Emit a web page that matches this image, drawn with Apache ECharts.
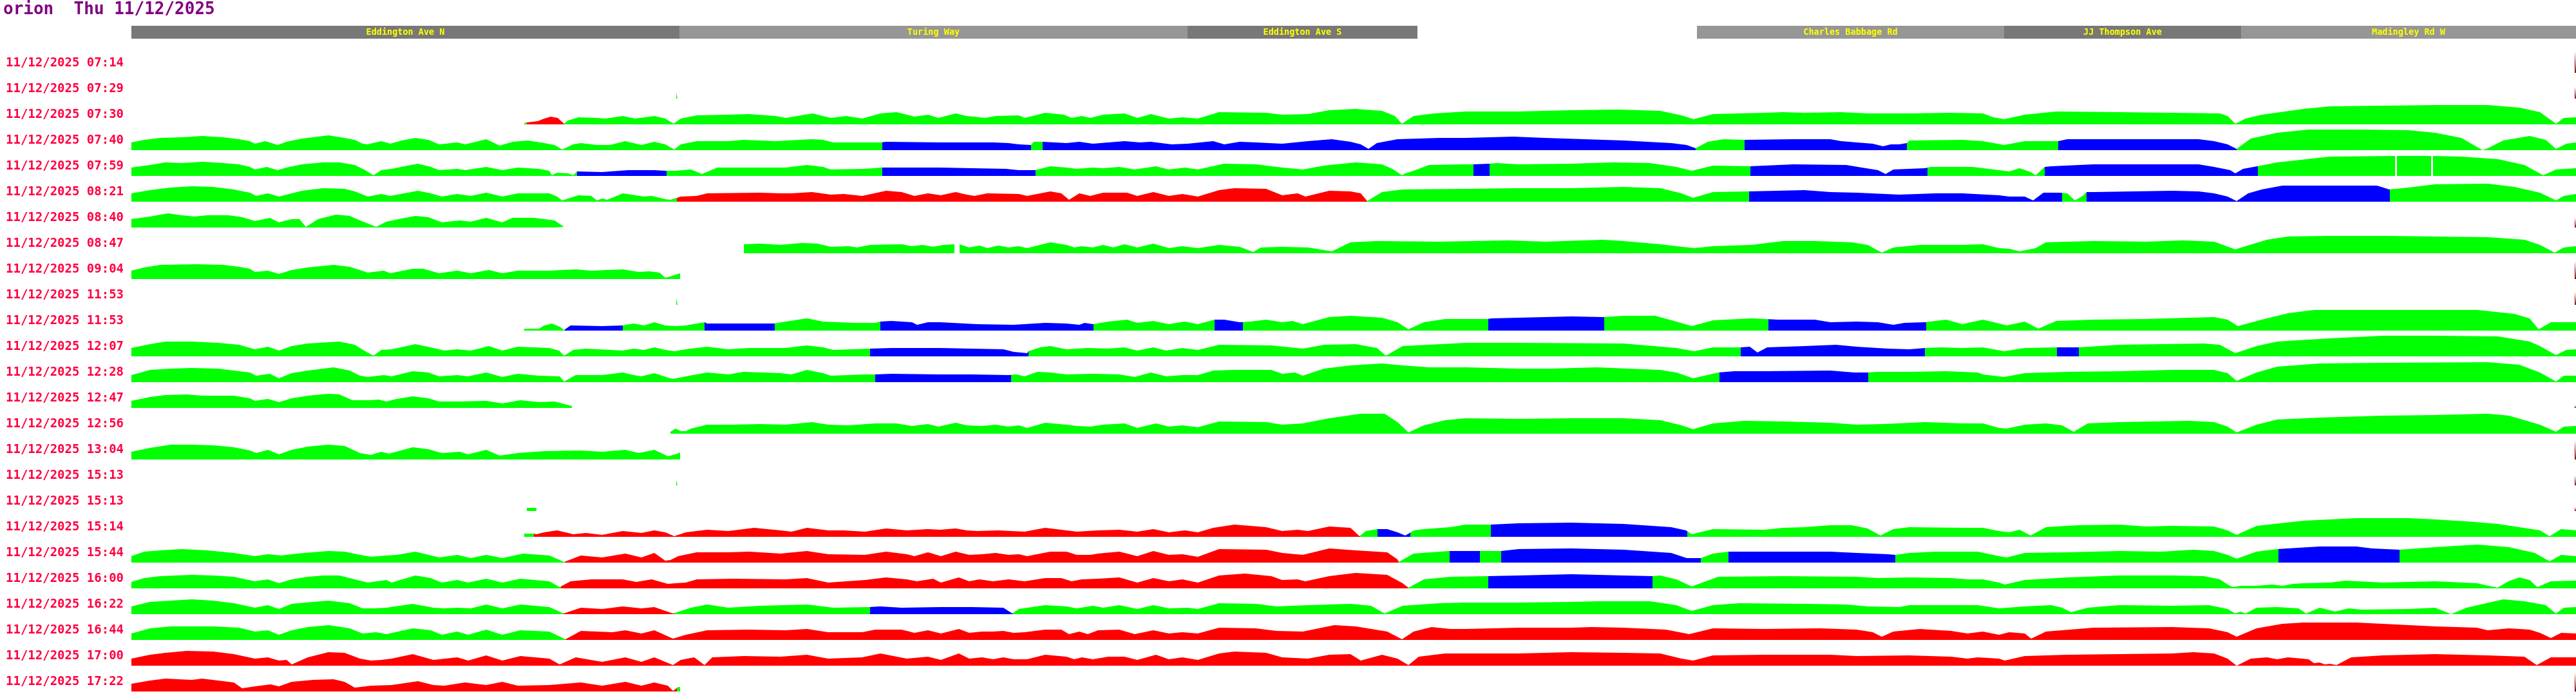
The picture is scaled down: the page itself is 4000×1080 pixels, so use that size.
<!DOCTYPE html>
<html><head><meta charset="utf-8">
<script src="https://cdn.jsdelivr.net/npm/echarts@6/dist/echarts.min.js"></script>
<style>html,body{margin:0;padding:0;background:#fff}#c{width:4000px;height:1080px}</style>
</head><body><div id="c"></div>
<script>
const titleText = 'orion  Thu 11/12/2025';
const rowLabels = ['11/12/2025 07:14','11/12/2025 07:29','11/12/2025 07:30','11/12/2025 07:40','11/12/2025 07:59','11/12/2025 08:21','11/12/2025 08:40','11/12/2025 08:47','11/12/2025 09:04','11/12/2025 11:53','11/12/2025 11:53','11/12/2025 12:07','11/12/2025 12:28','11/12/2025 12:47','11/12/2025 12:56','11/12/2025 13:04','11/12/2025 15:13','11/12/2025 15:13','11/12/2025 15:14','11/12/2025 15:44','11/12/2025 16:00','11/12/2025 16:22','11/12/2025 16:44','11/12/2025 17:00','11/12/2025 17:22'];
// road sections: [from, to, name, shade]
const sections = [[204,1055,'Eddington Ave N','d'],[1055,1844,'Turing Way','l'],[1844,2201,'Eddington Ave S','d'],[2635,3112,'Charles Babbage Rd','l'],[3112,3480,'JJ Thompson Ave','d'],[3480,4000,'Madingley Rd W','l']];

// profiles: [distance, value]
const prof00 = [];
const prof01 = [[1050,9],[1052,9]];
const prof02 = [[814,2],[818,3],[835,5],[845,9],[855,12],[866,10],[876,1],[882,6],[898,11],[927,10],[940,9],[967,13],[986,9],[1016,13],[1033,9],[1046,1],[1057,9],[1082,14],[1130,15],[1163,16],[1204,13],[1220,10],[1262,17],[1290,10],[1314,13],[1339,9],[1367,17],[1392,19],[1420,12],[1441,15],[1457,10],[1484,17],[1501,13],[1513,12],[1529,10],[1546,13],[1582,14],[1591,10],[1623,18],[1652,15],[1664,10],[1680,13],[1693,10],[1713,15],[1746,17],[1766,10],[1787,16],[1815,9],[1836,11],[1860,9],[1893,19],[1966,18],[1991,15],[2031,16],[2064,22],[2105,24],[2146,21],[2166,13],[2177,1],[2195,13],[2227,17],[2276,20],[2358,20],[2440,22],[2513,23],[2578,21],[2611,14],[2630,8],[2660,16],[2740,18],[2769,19],[2802,18],[2859,19],[2900,17],[2965,17],[3030,18],[3079,17],[3095,11],[3112,8],[3144,15],[3193,20],[3291,19],[3373,18],[3447,17],[3459,13],[3471,1],[3487,9],[3512,15],[3577,24],[3618,28],[3700,29],[3781,30],[3863,30],[3912,26],[3944,19],[3969,1],[3981,10],[4000,11]];
const prof03 = [[204,12],[224,16],[249,19],[282,20],[314,22],[347,20],[371,17],[388,14],[396,10],[412,14],[431,8],[445,13],[469,18],[510,23],[535,19],[551,16],[563,10],[571,9],[592,14],[606,10],[624,15],[645,19],[665,16],[682,9],[710,12],[722,9],[735,12],[755,17],[776,7],[796,13],[820,15],[845,11],[861,8],[873,1],[890,9],[902,11],[927,8],[947,8],[971,14],[996,8],[1016,13],[1033,9],[1047,1],[1057,9],[1082,14],[1131,14],[1155,16],[1204,14],[1261,17],[1278,16],[1294,12],[1367,12],[1376,13],[1460,12],[1542,12],[1566,11],[1582,9],[1601,8],[1605,13],[1619,13],[1656,11],[1676,13],[1697,10],[1746,14],[1770,12],[1787,13],[1819,9],[1844,10],[1884,14],[1901,9],[1925,13],[1950,12],[1991,10],[2031,14],[2068,17],[2097,13],[2113,9],[2125,2],[2138,11],[2170,17],[2235,19],[2276,19],[2350,21],[2399,19],[2521,15],[2595,11],[2619,8],[2633,3],[2652,13],[2676,17],[2709,16],[2785,17],[2842,17],[2859,14],[2883,12],[2908,10],[2924,6],[2936,9],[2949,9],[2961,11],[2965,15],[3047,16],[3079,14],[3112,8],[3144,14],[3196,14],[3210,17],[3291,17],[3414,17],[3438,14],[3459,9],[3473,2],[3495,18],[3536,27],[3585,32],[3659,32],[3740,31],[3781,27],[3822,19],[3855,0],[3863,3],[3887,15],[3928,22],[3953,16],[3969,2],[3985,10],[4000,12]];
const prof04 = [[204,13],[233,17],[257,21],[282,20],[314,22],[347,20],[371,18],[388,14],[396,10],[414,14],[431,9],[445,13],[469,18],[502,21],[527,21],[551,17],[567,9],[580,1],[592,9],[608,11],[633,16],[649,19],[669,14],[682,9],[710,11],[722,9],[755,14],[780,9],[804,13],[837,11],[853,8],[857,1],[865,5],[882,4],[890,1],[896,7],[935,6],[975,9],[1016,9],[1033,8],[1049,8],[1073,10],[1090,3],[1092,1],[1114,13],[1180,13],[1220,13],[1253,17],[1278,14],[1290,10],[1343,11],[1370,13],[1384,13],[1460,13],[1509,12],[1562,11],[1582,9],[1607,9],[1615,11],[1631,15],[1656,13],[1672,11],[1697,13],[1713,12],[1738,14],[1762,10],[1795,15],[1815,10],[1840,13],[1860,10],[1901,19],[1950,18],[1991,13],[2023,10],[2056,16],[2105,21],[2146,18],[2162,11],[2177,1],[2182,4],[2195,8],[2219,17],[2276,18],[2288,18],[2313,19],[2325,20],[2358,18],[2440,19],[2505,21],[2562,20],[2603,14],[2627,8],[2660,16],[2717,15],[2740,16],[2785,18],[2867,17],[2891,13],[2916,9],[2928,3],[2940,10],[2989,12],[2998,14],[3063,14],[3096,10],[3120,7],[3136,12],[3153,6],[3161,1],[3175,14],[3185,15],[3251,18],[3414,18],[3438,14],[3463,9],[3471,4],[3483,11],[3505,15],[3536,21],[3618,30],[3719,31],[3720,'-'],[3722,31],[3775,31],[3776,'-'],[3778,31],[3822,30],[3879,26],[3920,17],[3949,1],[3969,10],[4000,12]];
const prof05 = [[204,13],[233,18],[265,22],[298,24],[331,23],[363,19],[388,14],[398,9],[416,13],[433,8],[453,13],[469,17],[502,21],[535,20],[551,16],[571,8],[592,12],[606,9],[633,14],[649,17],[669,13],[686,8],[710,12],[731,9],[755,14],[780,8],[804,13],[853,13],[865,8],[873,2],[898,10],[918,9],[927,2],[935,5],[943,3],[967,13],[1000,8],[1012,9],[1033,4],[1041,3],[1051,6],[1057,8],[1082,9],[1098,13],[1180,14],[1212,13],[1229,13],[1261,15],[1290,11],[1310,12],[1339,9],[1376,17],[1400,15],[1420,9],[1441,13],[1461,10],[1484,15],[1501,11],[1513,9],[1533,13],[1582,12],[1595,9],[1631,16],[1648,13],[1660,3],[1676,13],[1693,9],[1713,14],[1750,14],[1766,9],[1791,15],[1815,9],[1836,12],[1860,8],[1893,18],[1917,21],[1966,20],[1991,10],[2015,13],[2027,8],[2064,17],[2097,16],[2113,13],[2123,1],[2146,15],[2178,19],[2276,20],[2358,21],[2440,21],[2521,23],[2578,21],[2611,13],[2629,6],[2660,15],[2716,16],[2802,18],[2842,15],[2883,14],[2949,11],[3006,13],[3047,13],[3104,10],[3120,8],[3144,8],[3157,2],[3173,14],[3198,14],[3210,13],[3222,2],[3234,9],[3240,15],[3251,15],[3373,17],[3414,16],[3438,13],[3459,8],[3473,1],[3491,13],[3512,19],[3544,25],[3691,25],[3710,19],[3740,22],[3781,27],[3863,28],[3904,23],[3944,14],[3969,2],[3981,9],[4000,12]];
const prof06 = [[204,13],[233,17],[261,22],[282,19],[302,17],[322,19],[355,19],[376,16],[396,10],[419,15],[433,8],[453,13],[465,13],[475,1],[494,13],[522,20],[543,18],[559,11],[584,1],[600,9],[624,14],[645,18],[665,16],[686,8],[714,11],[731,9],[755,15],[780,8],[796,15],[829,15],[861,11],[876,1]];
const prof07 = [[1155,14],[1180,15],[1212,13],[1245,16],[1269,15],[1290,10],[1318,11],[1331,9],[1351,13],[1400,14],[1416,11],[1433,13],[1449,10],[1465,13],[1482,14],[1486,'-'],[1490,14],[1505,9],[1521,12],[1533,8],[1550,12],[1566,9],[1582,11],[1595,8],[1631,17],[1656,13],[1668,9],[1680,11],[1697,9],[1713,13],[1729,9],[1746,14],[1766,9],[1791,15],[1815,8],[1836,11],[1860,8],[1893,13],[1925,10],[1946,2],[1958,9],[1991,10],[2031,9],[2068,3],[2097,17],[2138,19],[2235,18],[2342,20],[2399,18],[2489,21],[2521,19],[2578,14],[2603,11],[2631,8],[2660,11],[2720,13],[2769,19],[2818,19],[2875,17],[2900,13],[2922,1],[2940,9],[2981,13],[3047,13],[3079,14],[3104,8],[3120,7],[3136,3],[3161,8],[3177,17],[3251,19],[3332,18],[3389,20],[3438,18],[3471,6],[3487,11],[3520,21],[3553,26],[3618,27],[3700,27],[3781,26],[3863,25],[3920,21],[3944,13],[3967,1],[3981,9],[4000,11]];
const prof08 = [[204,13],[224,18],[249,22],[306,23],[347,22],[371,19],[388,16],[396,11],[416,13],[433,8],[453,14],[478,18],[518,22],[543,19],[559,14],[571,10],[596,13],[606,9],[641,16],[657,16],[682,9],[710,13],[731,9],[759,14],[780,9],[804,13],[853,13],[894,15],[918,13],[967,15],[992,11],[1008,12],[1024,10],[1033,2],[1041,4],[1056,9]];
const prof09 = [[1050,11],[1052,11]];
const prof10 = [[814,3],[829,3],[837,3],[845,8],[857,11],[869,6],[876,1],[886,8],[935,7],[967,8],[984,11],[1000,8],[1016,13],[1033,8],[1049,7],[1065,8],[1082,11],[1094,13],[1098,11],[1202,11],[1220,14],[1253,19],[1278,14],[1327,12],[1359,12],[1367,14],[1384,15],[1416,13],[1424,9],[1441,13],[1460,13],[1517,10],[1574,9],[1623,12],[1656,11],[1676,9],[1684,12],[1697,10],[1721,14],[1750,17],[1766,12],[1791,15],[1815,10],[1840,14],[1860,10],[1886,17],[1901,17],[1925,13],[1942,14],[1966,17],[1991,13],[2007,15],[2023,10],[2064,21],[2097,23],[2146,20],[2170,13],[2187,2],[2211,13],[2244,18],[2309,18],[2317,19],[2358,20],[2440,22],[2490,21],[2521,23],[2570,23],[2603,14],[2627,7],[2660,16],[2720,19],[2761,17],[2818,17],[2842,13],[2883,14],[2916,13],[2940,9],[2957,12],[2989,13],[3022,17],[3047,10],[3079,17],[3096,13],[3116,8],[3144,14],[3165,3],[3193,15],[3251,17],[3332,18],[3438,21],[3459,17],[3475,7],[3512,17],[3553,27],[3593,32],[3700,32],[3847,32],[3904,26],[3928,19],[3942,2],[3961,13],[4000,13]];
const prof11 = [[204,13],[233,19],[257,23],[298,23],[339,21],[371,18],[396,11],[416,15],[433,9],[453,16],[478,20],[527,23],[551,18],[567,8],[580,1],[592,10],[608,11],[645,19],[673,13],[690,9],[710,11],[731,9],[759,16],[780,9],[804,15],[853,13],[868,9],[876,1],[890,10],[910,12],[967,9],[984,12],[1000,10],[1016,14],[1033,10],[1047,8],[1065,11],[1098,15],[1131,11],[1163,13],[1220,13],[1253,17],[1278,14],[1294,10],[1351,12],[1384,13],[1460,13],[1509,12],[1558,11],[1574,7],[1595,5],[1597,8],[1615,14],[1631,16],[1656,11],[1689,13],[1721,12],[1746,14],[1766,9],[1791,14],[1811,9],[1836,13],[1860,10],[1893,18],[1974,17],[2023,12],[2056,18],[2105,19],[2138,13],[2152,1],[2178,16],[2276,21],[2350,21],[2521,20],[2603,13],[2631,8],[2660,14],[2703,14],[2717,15],[2729,6],[2744,14],[2802,16],[2851,18],[2883,15],[2932,12],[2965,11],[2989,13],[3014,14],[3047,13],[3079,14],[3112,8],[3144,13],[3194,14],[3228,14],[3291,18],[3422,20],[3447,18],[3471,5],[3504,16],[3536,23],[3618,28],[3700,32],[3781,32],[3879,31],[3928,23],[3944,16],[3969,2],[3985,10],[4000,11]];
const prof12 = [[204,11],[233,19],[265,21],[298,22],[339,21],[363,18],[388,15],[398,10],[419,13],[433,6],[453,14],[478,18],[518,23],[543,18],[559,10],[571,8],[596,11],[608,9],[641,17],[665,15],[682,9],[710,11],[727,9],[755,15],[780,8],[804,13],[837,10],[869,9],[876,1],[894,11],[935,11],[967,15],[984,11],[996,9],[1016,14],[1037,7],[1045,5],[1065,9],[1098,15],[1131,12],[1155,16],[1212,14],[1229,12],[1253,19],[1278,14],[1290,10],[1343,12],[1359,12],[1384,13],[1460,12],[1509,12],[1566,11],[1578,12],[1591,9],[1611,16],[1631,15],[1656,12],[1697,13],[1738,12],[1762,8],[1787,15],[1811,9],[1836,11],[1860,11],[1884,18],[1917,19],[1974,19],[1991,13],[2011,15],[2023,10],[2056,21],[2097,26],[2146,29],[2178,26],[2219,23],[2276,23],[2358,21],[2407,21],[2480,23],[2578,19],[2603,15],[2629,6],[2668,15],[2693,17],[2740,17],[2842,18],[2879,15],[2900,15],[2916,16],[2965,16],[3022,17],[3071,15],[3079,12],[3104,9],[3112,8],[3144,14],[3210,16],[3291,17],[3373,19],[3438,19],[3459,14],[3473,2],[3504,15],[3536,24],[3602,29],[3700,30],[3863,31],[3912,27],[3944,15],[3969,1],[3981,10],[4000,10]];
const prof13 = [[204,11],[233,17],[257,20],[290,21],[314,19],[363,19],[388,15],[396,11],[416,14],[433,9],[453,15],[478,19],[510,22],[527,21],[547,12],[576,12],[588,13],[600,10],[616,14],[641,18],[665,15],[682,10],[714,10],[755,11],[780,7],[808,12],[837,9],[861,10],[888,3]];
const prof14 = [[1041,3],[1049,8],[1057,4],[1065,4],[1073,8],[1098,14],[1139,14],[1180,15],[1220,14],[1261,18],[1286,14],[1318,13],[1359,16],[1392,16],[1416,12],[1441,15],[1457,11],[1484,17],[1501,13],[1525,12],[1546,14],[1566,11],[1582,13],[1595,9],[1623,17],[1656,14],[1672,12],[1693,11],[1713,14],[1746,16],[1766,9],[1795,16],[1815,11],[1836,13],[1860,10],[1893,19],[1966,18],[1991,14],[2023,16],[2064,24],[2113,31],[2150,31],[2170,18],[2187,2],[2211,13],[2244,21],[2276,24],[2358,23],[2440,24],[2521,24],[2578,21],[2611,13],[2629,7],[2660,16],[2709,20],[2769,19],[2842,17],[2883,14],[2924,15],[2989,18],[3047,16],[3079,16],[3104,9],[3116,8],[3144,14],[3177,16],[3202,13],[3220,3],[3242,16],[3291,18],[3398,20],[3438,18],[3459,11],[3473,2],[3504,14],[3536,22],[3602,25],[3700,28],[3781,29],[3863,31],[3896,28],[3944,14],[3969,3],[3981,11],[4000,12]];
const prof15 = [[204,12],[233,18],[265,23],[298,23],[331,22],[363,19],[388,14],[398,10],[416,15],[433,8],[453,15],[478,20],[510,23],[535,21],[559,10],[576,7],[592,12],[604,9],[641,19],[665,16],[686,10],[714,12],[727,8],[755,15],[776,6],[804,10],[845,13],[902,14],[935,12],[971,15],[992,10],[1016,15],[1037,5],[1049,8],[1056,11]];
const prof16 = [[1050,8],[1052,8]];
const prof17 = [[818,5],[833,5]];
const prof18 = [[814,5],[829,5],[833,4],[845,7],[865,10],[878,7],[890,4],[910,6],[935,3],[967,9],[996,6],[1016,10],[1033,7],[1047,1],[1065,7],[1098,11],[1131,9],[1171,14],[1212,10],[1229,8],[1253,14],[1286,10],[1310,10],[1343,8],[1376,13],[1408,10],[1441,12],[1460,11],[1484,13],[1501,10],[1517,9],[1550,10],[1591,8],[1623,14],[1656,10],[1672,8],[1705,10],[1738,11],[1766,8],[1791,12],[1815,7],[1840,10],[1860,7],[1884,14],[1917,19],[1966,15],[1991,9],[2015,11],[2031,9],[2064,16],[2097,14],[2111,1],[2121,9],[2139,12],[2154,12],[2170,7],[2182,2],[2196,10],[2211,12],[2252,15],[2276,19],[2315,19],[2358,21],[2440,22],[2521,20],[2595,15],[2618,10],[2627,4],[2660,12],[2740,11],[2769,14],[2802,15],[2842,18],[2875,18],[2900,13],[2920,2],[2940,12],[2965,15],[3047,14],[3079,14],[3104,9],[3120,7],[3136,11],[3153,2],[3177,15],[3226,18],[3291,19],[3332,16],[3373,17],[3438,16],[3459,10],[3473,3],[3504,17],[3577,25],[3659,29],[3740,29],[3781,27],[3830,24],[3879,20],[3944,10],[3959,1],[3977,12],[4000,10]];
const prof19 = [[204,10],[224,17],[249,19],[282,21],[322,19],[363,15],[396,10],[416,13],[437,11],[461,14],[510,18],[535,17],[559,12],[576,9],[600,11],[616,12],[645,17],[682,8],[710,12],[731,7],[755,12],[780,7],[812,14],[853,11],[876,1],[902,11],[935,8],[971,14],[996,8],[1016,15],[1033,3],[1041,4],[1053,10],[1082,16],[1131,16],[1163,17],[1212,14],[1253,18],[1286,13],[1343,12],[1376,17],[1408,13],[1420,10],[1441,16],[1461,10],[1484,17],[1505,12],[1525,13],[1546,15],[1566,12],[1582,13],[1595,10],[1631,17],[1656,17],[1672,12],[1693,12],[1705,14],[1738,17],[1766,10],[1791,18],[1815,12],[1836,13],[1860,9],[1893,21],[1966,20],[1991,15],[2023,12],[2064,22],[2105,19],[2154,16],[2170,5],[2172,1],[2195,14],[2250,18],[2298,18],[2331,18],[2358,21],[2440,22],[2521,20],[2595,15],[2619,7],[2641,7],[2660,14],[2684,17],[2740,17],[2842,17],[2883,15],[2932,13],[2943,12],[2965,15],[3006,17],[3071,17],[3104,10],[3116,8],[3144,15],[3210,16],[3291,18],[3357,17],[3406,20],[3438,18],[3459,12],[3473,6],[3504,17],[3536,21],[3602,25],[3659,25],[3683,22],[3726,20],[3781,24],[3847,28],[3896,24],[3936,15],[3959,2],[3977,12],[4000,10]];
const prof20 = [[204,10],[224,16],[249,19],[298,21],[331,20],[363,18],[396,11],[416,14],[433,8],[453,14],[478,18],[502,20],[527,20],[551,14],[571,9],[600,13],[608,9],[645,20],[669,16],[686,9],[710,13],[727,9],[755,15],[780,9],[808,15],[853,11],[869,2],[886,11],[918,14],[967,14],[988,10],[1012,14],[1037,7],[1049,8],[1065,9],[1082,14],[1139,15],[1220,14],[1253,16],[1286,9],[1343,13],[1376,17],[1408,14],[1424,11],[1449,15],[1461,9],[1489,17],[1505,11],[1521,14],[1542,11],[1566,14],[1591,11],[1623,16],[1648,16],[1664,11],[1680,14],[1705,15],[1738,17],[1766,9],[1791,16],[1815,11],[1836,14],[1860,9],[1893,20],[1933,23],[1974,19],[1991,13],[2015,14],[2027,11],[2064,19],[2105,24],[2154,21],[2178,8],[2187,1],[2211,14],[2252,18],[2309,19],[2358,20],[2440,22],[2521,20],[2566,19],[2578,20],[2603,14],[2627,3],[2668,18],[2769,19],[2883,18],[2916,16],[2965,17],[3030,16],[3055,14],[3079,14],[3104,9],[3113,6],[3144,13],[3210,17],[3291,20],[3373,20],[3422,19],[3447,14],[3459,6],[3467,2],[3479,4],[3504,4],[3528,6],[3544,4],[3561,7],[3577,8],[3618,9],[3642,12],[3700,9],[3781,11],[3846,8],[3878,1],[3895,11],[3912,17],[3928,13],[3940,2],[3961,11],[4000,12]];
const prof21 = [[204,12],[233,19],[265,21],[298,23],[331,21],[363,17],[396,10],[416,14],[433,8],[453,16],[486,19],[510,21],[543,17],[563,9],[580,9],[600,10],[641,16],[673,10],[690,9],[710,10],[731,9],[755,15],[780,9],[808,15],[853,11],[875,1],[902,10],[935,8],[967,12],[996,9],[1016,11],[1045,1],[1073,10],[1098,15],[1131,10],[1180,13],[1253,15],[1294,10],[1349,11],[1367,12],[1400,10],[1460,11],[1509,11],[1558,10],[1572,1],[1582,8],[1623,14],[1656,12],[1672,9],[1697,13],[1713,10],[1738,14],[1766,8],[1791,14],[1815,9],[1844,10],[1860,8],[1893,17],[1950,16],[1982,12],[2031,14],[2097,16],[2129,13],[2150,1],[2178,13],[2235,17],[2276,18],[2358,18],[2440,19],[2480,20],[2562,20],[2603,14],[2627,5],[2660,14],[2701,17],[2802,16],[2867,15],[2900,12],[2949,11],[2965,14],[3006,14],[3071,14],[3104,9],[3144,12],[3185,14],[3202,10],[3216,3],[3242,10],[3291,14],[3373,13],[3430,14],[3459,8],[3471,1],[3479,4],[3487,1],[3504,10],[3536,11],[3569,9],[3581,1],[3602,10],[3626,4],[3647,9],[3667,7],[3740,8],[3781,10],[3806,0],[3830,10],[3887,23],[3920,20],[3953,14],[3969,1],[3981,10],[4000,11]];
const prof22 = [[204,10],[233,18],[265,21],[331,21],[371,19],[396,13],[416,15],[433,8],[453,15],[478,20],[510,23],[543,18],[563,10],[584,12],[600,9],[641,18],[669,15],[686,8],[710,13],[727,8],[755,16],[780,8],[808,15],[853,13],[878,1],[902,14],[951,12],[971,15],[996,10],[1016,15],[1045,2],[1065,8],[1098,15],[1163,16],[1220,15],[1253,17],[1286,12],[1339,12],[1359,16],[1400,16],[1420,11],[1441,15],[1461,10],[1489,17],[1505,11],[1525,13],[1542,13],[1558,14],[1574,11],[1591,12],[1623,16],[1648,16],[1660,9],[1676,13],[1689,9],[1705,15],[1738,16],[1762,9],[1791,15],[1815,10],[1836,12],[1860,10],[1893,19],[1950,18],[1982,14],[2023,13],[2072,23],[2105,21],[2154,13],[2177,1],[2195,13],[2223,20],[2252,17],[2276,17],[2358,19],[2440,19],[2472,20],[2521,19],[2587,16],[2623,9],[2660,18],[2740,17],[2826,18],[2883,16],[2908,12],[2922,5],[2940,13],[2981,17],[3030,14],[3055,10],[3079,13],[3104,8],[3120,12],[3144,10],[3154,2],[3177,13],[3251,19],[3373,20],[3430,18],[3459,12],[3473,5],[3504,18],[3544,25],[3577,27],[3659,27],[3700,25],[3781,21],[3846,19],[3863,15],[3896,18],[3928,16],[3944,11],[3961,3],[3977,11],[4000,10]];
const prof23 = [[204,11],[233,17],[257,20],[290,23],[331,22],[363,18],[396,11],[416,13],[433,8],[445,9],[453,2],[478,13],[510,21],[535,20],[559,11],[576,8],[592,9],[608,11],[641,18],[673,9],[710,13],[727,8],[755,16],[780,8],[808,15],[853,11],[869,2],[894,13],[935,6],[971,13],[996,6],[1016,13],[1045,1],[1057,9],[1078,13],[1094,1],[1106,13],[1155,15],[1212,14],[1253,17],[1286,11],[1339,13],[1367,19],[1408,11],[1441,14],[1461,9],[1489,19],[1505,11],[1525,13],[1542,10],[1558,13],[1574,10],[1595,10],[1623,17],[1656,14],[1668,10],[1680,13],[1697,10],[1721,14],[1746,14],[1766,9],[1795,17],[1815,10],[1836,13],[1860,9],[1893,19],[1917,22],[1966,20],[1991,13],[2031,11],[2064,17],[2097,18],[2113,8],[2146,17],[2170,11],[2187,1],[2203,14],[2244,19],[2358,19],[2440,21],[2521,20],[2578,19],[2611,11],[2629,8],[2660,16],[2740,17],[2842,17],[2883,15],[2965,16],[3030,14],[3055,11],[3071,13],[3104,11],[3113,8],[3144,15],[3210,17],[3291,18],[3373,19],[3406,21],[3438,19],[3459,11],[3473,0],[3495,11],[3520,13],[3536,10],[3553,13],[3585,10],[3593,4],[3602,5],[3610,2],[3618,3],[3628,1],[3651,13],[3700,16],[3781,18],[3863,16],[3920,14],[3939,1],[3961,13],[4000,13]];
const prof24 = [[204,12],[233,17],[257,20],[298,18],[314,20],[347,16],[363,14],[376,5],[396,8],[420,11],[433,8],[453,15],[486,18],[518,19],[535,15],[551,6],[576,9],[608,10],[649,16],[673,10],[690,9],[722,14],[755,10],[780,15],[804,9],[853,10],[902,14],[935,9],[971,15],[996,9],[1016,14],[1037,9],[1045,1],[1053,7],[1056,7]];

// colour segments per row: [from, to, state]  g = free, b = slow, r = queue
const seg00 = [];
const seg01 = [[1050,1053,'g']];
const seg02 = [[814,818,'g'],[818,876,'r'],[876,4000,'g']];
const seg03 = [[204,1370,'g'],[1370,1601,'b'],[1601,1619,'g'],[1619,2633,'b'],[2633,2709,'g'],[2709,2961,'b'],[2961,3196,'g'],[3196,3473,'b'],[3473,4000,'g']];
const seg04 = [[204,896,'g'],[896,1035,'b'],[1035,1370,'g'],[1370,1608,'b'],[1608,2288,'g'],[2288,2313,'b'],[2313,2718,'g'],[2718,2993,'b'],[2993,3175,'g'],[3175,3506,'b'],[3506,4000,'g']];
const seg05 = [[204,1051,'g'],[1051,2123,'r'],[2123,2716,'g'],[2716,3202,'b'],[3202,3240,'g'],[3240,3711,'b'],[3711,4000,'g']];
const seg06 = [[204,877,'g']];
const seg07 = [[1155,4000,'g']];
const seg08 = [[204,1057,'g']];
const seg09 = [[1050,1053,'g']];
const seg10 = [[814,877,'g'],[877,967,'b'],[967,1094,'g'],[1094,1203,'b'],[1203,1367,'g'],[1367,1698,'b'],[1698,1886,'g'],[1886,1930,'b'],[1930,2311,'g'],[2311,2491,'b'],[2491,2746,'g'],[2746,2991,'b'],[2991,4000,'g']];
const seg11 = [[204,1351,'g'],[1351,1597,'b'],[1597,2703,'g'],[2703,2989,'b'],[2989,3194,'g'],[3194,3228,'b'],[3228,4000,'g']];
const seg12 = [[204,1359,'g'],[1359,1570,'b'],[1570,2670,'g'],[2670,2901,'b'],[2901,4000,'g']];
const seg13 = [[204,889,'g']];
const seg14 = [[1041,4000,'g']];
const seg15 = [[204,1057,'g']];
const seg16 = [[1050,1053,'g']];
const seg17 = [[818,834,'g']];
const seg18 = [[814,829,'g'],[829,2112,'r'],[2112,2139,'g'],[2139,2190,'b'],[2190,2315,'g'],[2315,2620,'b'],[2620,4000,'g']];
const seg19 = [[204,877,'g'],[877,2172,'r'],[2172,2251,'g'],[2251,2298,'b'],[2298,2331,'g'],[2331,2641,'b'],[2641,2684,'g'],[2684,2943,'b'],[2943,3538,'g'],[3538,3726,'b'],[3726,4000,'g']];
const seg20 = [[204,871,'g'],[871,2187,'r'],[2187,2311,'g'],[2311,2566,'b'],[2566,4000,'g']];
const seg21 = [[204,875,'g'],[875,1047,'r'],[1047,1351,'g'],[1351,1573,'b'],[1573,4000,'g']];
const seg22 = [[204,878,'g'],[878,4000,'r']];
const seg23 = [[204,4000,'r']];
const seg24 = [[204,1051,'r'],[1051,1057,'g']];

// right-edge end markers for short runs: [row, value]
const endMarks = [[0,33],[1,18],[6,15],[8,28],[9,20],[13,4],[15,30],[16,15],[17,6],[24,30]];

const profiles = [prof00,prof01,prof02,prof03,prof04,prof05,prof06,prof07,prof08,prof09,prof10,prof11,prof12,prof13,prof14,prof15,prof16,prof17,prof18,prof19,prof20,prof21,prof22,prof23,prof24];
const segments = [seg00,seg01,seg02,seg03,seg04,seg05,seg06,seg07,seg08,seg09,seg10,seg11,seg12,seg13,seg14,seg15,seg16,seg17,seg18,seg19,seg20,seg21,seg22,seg23,seg24];

const COLORS = {g:'#00ff00', b:'#0000ff', r:'#ff0000'};
const X_MIN = 204, X_MAX = 4000;
const BASE0 = 113, STEP = 40, ROW_H = 36;
const N = rowLabels.length;

const grid = [], xAxis = [], yAxis = [], series = [], visualMap = [], graphic = [];
for (let i = 0; i < N; i++) {
  const base = BASE0 + STEP * i;
  grid.push({left: X_MIN, right: 0, top: base - ROW_H, height: ROW_H});
  xAxis.push({type:'value', gridIndex:i, min:X_MIN, max:X_MAX, show:false});
  yAxis.push({type:'value', gridIndex:i, min:0, max:ROW_H, show:false});
  series.push({
    type:'line', xAxisIndex:i, yAxisIndex:i, data: profiles[i],
    symbol:'none', showSymbol:false, connectNulls:false, silent:true,
    lineStyle:{width:0, opacity:0}, areaStyle:{opacity:1}
  });
  if (segments[i].length) {
    visualMap.push({
      type:'piecewise', show:false, seriesIndex:i, dimension:0,
      pieces: segments[i].map(s => ({gte:s[0], lt:s[1], color:COLORS[s[2]]})),
      outOfRange:{color:'#00ff00'}
    });
  }
  graphic.push({type:'text', x:9, y: base - 15, silent:true,
    style:{text: rowLabels[i], fill:'#ff0040', font:'bold 19px "DejaVu Sans Mono"', verticalAlign:'middle', textVerticalAlign:'middle'}});
}
// header grid
const HG = N;
grid.push({left: X_MIN, right: 0, top: 40, height: 20});
xAxis.push({type:'value', gridIndex:HG, min:X_MIN, max:X_MAX, show:false});
yAxis.push({type:'value', gridIndex:HG, min:0, max:1, show:false});
series.push({
  type:'custom', xAxisIndex:HG, yAxisIndex:HG, silent:true,
  data: sections.map(s => [s[0], s[1]]),
  encode:{x:[0,1]},
  renderItem: function(params, api) {
    const s = sections[params.dataIndex];
    const p0 = api.coord([s[0], 1]);
    const p1 = api.coord([s[1], 0]);
    return {type:'group', children:[
      {type:'rect', shape:{x:p0[0], y:p0[1], width:p1[0]-p0[0], height:p1[1]-p0[1]},
       style:{fill: s[3] === 'd' ? '#787878' : '#969696'}},
      {type:'text', style:{text:s[2], x:(p0[0]+p1[0])/2, y:(p0[1]+p1[1])/2,
        fill:'#ffff00', font:'bold 13.5px "DejaVu Sans Mono"', align:'center', verticalAlign:'middle',
        textAlign:'center', textVerticalAlign:'middle'}}
    ]};
  }
});
// end markers
endMarks.forEach(m => {
  series.push({
    type:'line', xAxisIndex:m[0], yAxisIndex:m[0], data:[[3998,m[1]],[4000,m[1]]],
    symbol:'none', silent:true, color:'#800000',
    lineStyle:{width:0, opacity:0}, areaStyle:{opacity:1, color:'#800000'}
  });
});
graphic.push({type:'text', x:5, y:15, silent:true,
  style:{text:titleText, fill:'#800080', font:'bold 26px "DejaVu Sans Mono"', verticalAlign:'middle', textVerticalAlign:'middle'}});

const chart = echarts.init(document.getElementById('c'), null, {renderer:'canvas'});
chart.setOption({
  animation:false, backgroundColor:'#ffffff',
  grid, xAxis, yAxis, series, visualMap, graphic
});
</script>
</body></html>
